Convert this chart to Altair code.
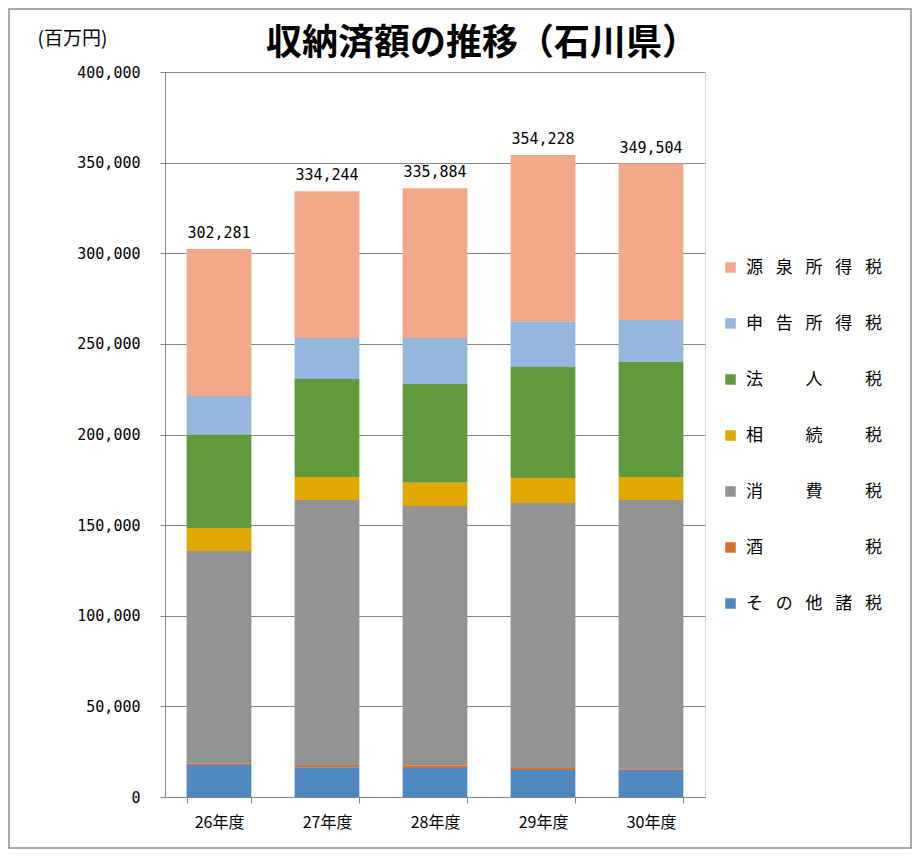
import altair as alt
import pandas as pd

years = ["26年度", "27年度", "28年度", "29年度", "30年度"]
categories = ["源泉所得税", "申告所得税", "法人税", "相続税", "消費税", "酒税", "その他諸税"]
gensen = [81081, 81044, 82684, 92028, 86304]
shinkoku = [21200, 22600, 25300, 25000, 23200]
hojin = [51600, 54100, 54500, 61200, 63500]
sozoku = [12700, 12600, 12900, 13800, 12600]
shohi = [117400, 146300, 143300, 146200, 148000]
sake = [700, 1200, 1200, 1100, 800]
sonota = [17600, 16400, 16000, 14900, 15100]
totals = [302281, 334244, 335884, 354228, 349504]
colors = ["#F2A98A", "#95B7DE", "#629A3E", "#E0A800", "#939393", "#D5702F", "#4E88BE"]
title_text = "収納済額の推移（石川県）"

g = "\u2002\u2005"
labels = {
    "源泉所得税": g.join("源泉所得税"),
    "申告所得税": g.join("申告所得税"),
    "法人税": g.join(["法", "\u3000", "人", "\u3000", "税"]),
    "相続税": g.join(["相", "\u3000", "続", "\u3000", "税"]),
    "消費税": g.join(["消", "\u3000", "費", "\u3000", "税"]),
    "酒税": g.join(["酒", "\u3000", "\u3000", "\u3000", "税"]),
    "その他諸税": g.join("その他諸税"),
}

series = [gensen, shinkoku, hojin, sozoku, shohi, sake, sonota]
rows = []
for ci, (cat, vals) in enumerate(zip(categories, series)):
    for yr, v in zip(years, vals):
        rows.append({"年度": yr, "税目": labels[cat], "額": v, "順": len(categories) - ci})
df = pd.DataFrame(rows)
tot = pd.DataFrame({"年度": years, "合計": totals,
                    "表示": [f"{t:,}" for t in totals]})

W, H = 540, 725
jp = "Noto Sans CJK JP"
mono = "DejaVu Sans Mono"
gray = "#868686"

xenc = alt.X("年度:N", sort=years,
             scale=alt.Scale(paddingInner=0.4, paddingOuter=0.2),
             axis=alt.Axis(title=None, labelAngle=0, labelFont=jp, labelFontSize=16,
                           labelColor="#000", labelPadding=11, tickBand="extent",
                           tickSize=6, tickColor=gray, domainColor=gray, grid=False))

bars = alt.Chart(df).mark_bar().encode(
    x=xenc,
    y=alt.Y("額:Q", stack="zero",
            scale=alt.Scale(domain=[0, 400000], nice=False),
            axis=alt.Axis(title="(百万円)", titleAngle=0, titleX=-128, titleY=-28,
                          titleAlign="left", titleBaseline="alphabetic",
                          titleFont=jp, titleFontSize=19, titleFontWeight="normal",
                          titleColor="#000",
                          values=list(range(0, 400001, 50000)), format=",d",
                          labelFont=mono, labelFontSize=15, labelColor="#000",
                          labelPadding=20, tickSize=5, tickColor=gray,
                          domainColor=gray, gridColor=gray)),
    color=alt.Color("税目:N", sort=[labels[c] for c in categories],
                    scale=alt.Scale(domain=[labels[c] for c in categories], range=colors),
                    legend=alt.Legend(title=None, orient="none", legendX=557, legendY=187,
                                      symbolType="square", symbolSize=110,
                                      symbolStrokeWidth=0, labelFont=jp, labelFontSize=17,
                                      labelColor="#000", labelOffset=7, rowPadding=38,
                                      labelLimit=300)),
    order=alt.Order("順:Q", sort="ascending"),
)

text = alt.Chart(tot).mark_text(font=mono, fontSize=15, dy=-8, baseline="bottom",
                                color="#000").encode(
    x=alt.X("年度:N", sort=years), y="合計:Q", text="表示:N")

title = alt.Chart(alt.Data(values=[{"t": title_text}])).mark_text(
    font=jp, fontSize=36, fontWeight="bold", color="#000", align="center",
    baseline="middle").encode(x=alt.value(317), y=alt.value(-28), text="t:N")

border = alt.Chart(alt.Data(values=[{}])).mark_rect(
    fill=None, stroke="#8c8c8c", strokeWidth=1.5).encode(
    x=alt.value(-156), x2=alt.value(746), y=alt.value(-63), y2=alt.value(776))

chart = alt.layer(bars, text, title, border).properties(
    width=W, height=H,
    autosize=alt.AutoSizeParams(type="none"),
    padding={"left": 157, "top": 64, "right": 207, "bottom": 53},
).configure_view(stroke=None).configure(background="white")

chart.save("out.html", embed_options={"renderer": "svg", "actions": False})
